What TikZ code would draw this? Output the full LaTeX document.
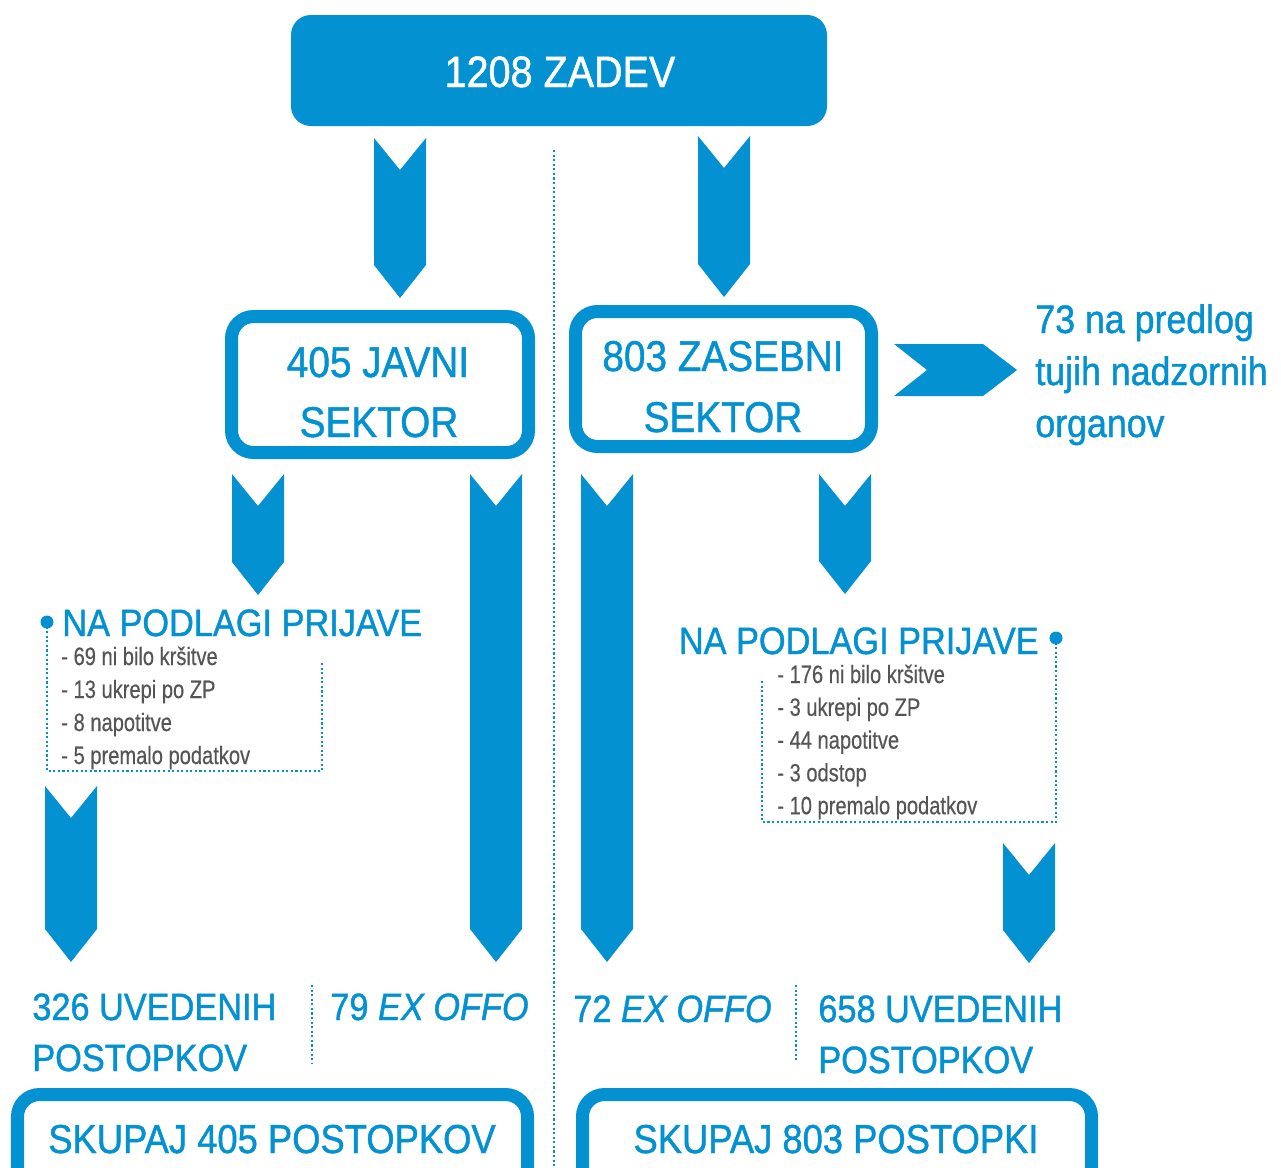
\documentclass[tikz,border=0pt]{standalone}
\usepackage{fontspec}
\setmainfont[FakeStretch=0.9,FakeBold=1.1]{Liberation Sans}
\newfontfamily\greyfont[FakeStretch=0.8,FakeBold=0.4]{Liberation Sans}
\usetikzlibrary{positioning}
\definecolor{zblue}{HTML}{0391D2}
\definecolor{zgrey}{HTML}{555555}

% chevron arrow pointing down: centre x, top y, tip y
\newcommand\chevdown[3]{\fill[zblue] (#1-26,#2) -- (#1,#2+32) -- (#1+26,#2)
  -- (#1+26,#3-33) -- (#1,#3) -- (#1-26,#3-33) -- cycle;}

\begin{document}
\begin{tikzpicture}[x=0.02cm,y=-0.02cm]
	\tikzset{
		frame/.style={draw=zblue,line width=7.4pt,rounded corners=12.5pt},
		boxtxt/.style={text=zblue,anchor=base,inner sep=0pt,font=\fontsize{24.5}{28}\selectfont},
		sumtxt/.style={text=zblue,anchor=base,inner sep=0pt,font=\fontsize{23}{27}\selectfont},
		lbl/.style={text=zblue,anchor=base west,inner sep=0pt,font=\fontsize{21.7}{26}\selectfont},
		item/.style={text=zgrey,anchor=base west,inner sep=0pt,font=\greyfont\fontsize{14.3}{17}\selectfont},
		dots/.style={zblue,line width=1.2pt,dash pattern=on 1.2pt off 1.4pt},
	}
	\clip (0,0) rectangle (1281,1167);

	%% top
	\fill[zblue,rounded corners=11.3pt] (291,15) rectangle (827,126);
	\node[boxtxt,text=white,font=\fontsize{25}{30}\selectfont] (zadev) at (560,87) {1208 ZADEV};
	\draw[dots] (554,150) -- (554,1167);
	\chevdown{400}{138}{298}
	\chevdown{724}{136}{297}

	%% sectors
	\draw[frame] (231.5,316.5) rectangle (528.5,452.5);
	\node[boxtxt] (javni) at (378,377) {405 JAVNI};
	\node[boxtxt] (javni2) at (379,437) {SEKTOR};
	\draw[frame] (575.5,311.5) rectangle (871.5,446.5);
	\node[boxtxt] (zasebni) at (723,371) {803 ZASEBNI};
	\node[boxtxt] (zasebni2) at (723,432) {SEKTOR};

	\fill[zblue] (894,344) -- (927,370) -- (894,396) -- (983,396) -- (1017,370) -- (983,344) -- cycle;
	\foreach \t [count=\i] in {73 na predlog,tujih nadzornih,organov}
		\node[lbl,font=\fontsize{22.6}{26}\selectfont] (tuji\i) at (1035,333+52*\i-52) {\t};

	\chevdown{258}{474}{595}
	\chevdown{496}{474}{962}
	\chevdown{607}{474}{962}
	\chevdown{845}{474}{594}

	%% left: na podlagi prijave
	\fill[zblue] (47,622) circle (6.5);
	\node[lbl] (prijL) at (62,636) {NA PODLAGI PRIJAVE};
	\draw[dots] (47,622) -- (47,771) -- (322,771) -- (322,663);
	\foreach \t [count=\i] in {- 69 ni bilo kršitve,- 13 ukrepi po ZP,- 8 napotitve,- 5 premalo podatkov}
		\node[item] (itemL\i) at (61,665+33*\i-33) {\t};
	\chevdown{71}{786}{962}

	%% right: na podlagi prijave
	\fill[zblue] (1056,638) circle (6.5);
	\node[lbl,anchor=base east] (prijR) at (1039,654) {NA PODLAGI PRIJAVE};
	\draw[dots] (1056,638) -- (1056,822) -- (762,822) -- (762,680);
	\foreach \t [count=\i] in {- 176 ni bilo kršitve,- 3 ukrepi po ZP,- 44 napotitve,- 3 odstop,- 10 premalo podatkov}
		\node[item] (itemR\i) at (777,683+32.8*\i-32.8) {\t};
	\chevdown{1029}{843}{963}

	%% results
	\node[lbl] (uvL) at (32,1020) {326 UVEDENIH};
	\node[lbl] (uvL2) at (32,1071) {POSTOPKOV};
	\draw[dots] (312,985) -- (312,1063);
	\node[lbl] (exL) at (330,1020) {79 \textit{EX OFFO}};
	\node[lbl] (exR) at (573,1022) {72 \textit{EX OFFO}};
	\draw[dots] (796,985) -- (796,1062);
	\node[lbl] (uvR) at (818,1022) {658 UVEDENIH};
	\node[lbl] (uvR2) at (818,1073) {POSTOPKOV};

	%% totals
	\draw[frame] (17.5,1094.5) rectangle (527.5,1200);
	\node[sumtxt] (sumL) at (272,1153) {SKUPAJ 405 POSTOPKOV};
	\draw[frame] (582.5,1094.5) rectangle (1091.5,1200);
	\node[sumtxt] (sumR) at (836,1153) {SKUPAJ 803 POSTOPKI};
\end{tikzpicture}
\end{document}
